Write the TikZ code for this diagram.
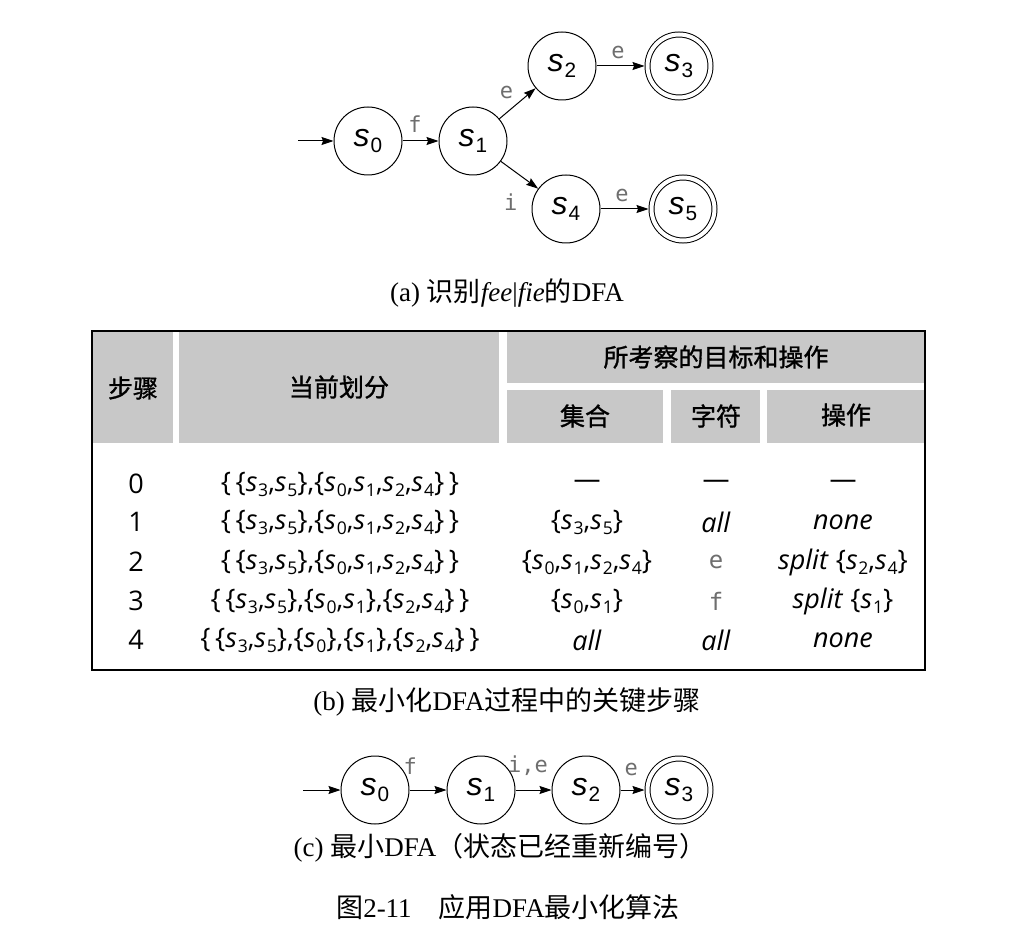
\documentclass[tikz,border=0pt]{standalone}
\usepackage{fontspec}
\setmainfont{Liberation Serif}
\newfontfamily\cjk{Noto Sans CJK SC}
\newfontfamily\cjkhead[FakeBold=1.2]{Noto Sans CJK SC}
\newfontfamily\tabfont{Open Sans}
\newfontfamily\statefont{Liberation Sans}
\newfontfamily\labfont{DejaVu Sans Mono}
\usetikzlibrary{arrows.meta}

\makeatletter
% lowered, smaller index that follows the size in force
\newcommand\subidx[1]{\raisebox{-0.35ex}{\fontsize{\the\dimexpr\f@size pt*13/20\relax}{0pt}\selectfont #1}}
\makeatother
\newcommand\sv[1]{\textit{s}\kern0.03em\subidx{#1}}
\newcommand\zh[1]{{\cjk #1}}
\newcommand\lb{\textbraceleft}
\newcommand\rb{\textbraceright}

\definecolor{headgray}{RGB}{200,200,200}
\definecolor{labgray}{RGB}{110,110,110}

\tikzset{
  state/.style={circle,draw,line width=1pt,minimum size=68pt,inner sep=0pt,
    font=\statefont\fontsize{32}{32}\selectfont},
  accept/.style={state,minimum size=63pt,double,double distance=4pt,outer sep=3pt},
  arr/.style={-{Stealth[length=12pt,width=8pt,inset=1.5pt]},line width=1pt},
  lab/.style={font=\labfont\fontsize{22}{22}\selectfont,text=labgray,inner sep=1pt},
  captext/.style={font=\fontsize{27}{27}\selectfont,inner sep=0pt},
  hcell/.style={fill=headgray,draw=none},
  htext/.style={font=\cjkhead\fontsize{25}{25}\selectfont,inner sep=0pt},
  body/.style={font=\tabfont\fontsize{27}{27}\selectfont,inner sep=0pt},
  chr/.style={font=\labfont\fontsize{24}{24}\selectfont,text=labgray,inner sep=0pt},
}

\begin{document}
\begin{tikzpicture}[x=1pt,y=-1pt]
\useasboundingbox (0,0) rectangle (1018,944);

% ---------- (a) DFA for fee|fie ----------
\node[state]  (a0) at (368,141) {\sv0};
\node[state]  (a1) at (473,141) {\sv1};
\node[state]  (a2) at (562,66)  {\sv2};
\node[accept] (a3) at (679,66)  {\sv3};
\node[state]  (a4) at (566,209) {\sv4};
\node[accept] (a5) at (683,209) {\sv5};
\coordinate (ain) at (298,141);

\draw[arr] (ain) -- (a0);
\draw[arr] (a0) -- node[lab,pos=0.35,above=7pt] {f} (a1);
\draw[arr] (a1) -- node[lab,above left=3pt] {e} (a2);
\draw[arr] (a1) -- node[lab,pos=0.75,below left=10pt] {i} (a4);
\draw[arr] (a2) -- node[lab,pos=0.45,above=6pt] {e} (a3);
\draw[arr] (a4) -- node[lab,pos=0.45,above=6pt] {e} (a5);

\node[captext] (capa) at (507,293) {(a) \zh{识别}\textit{fee}|\textit{fie}\zh{的}DFA};

% ---------- (b) table of minimisation steps ----------
\fill[hcell] (92,331) rectangle (173,443);
\fill[hcell] (179,331) rectangle (499,443);
\fill[hcell] (507,331) rectangle (925,383);
\fill[hcell] (507,390) rectangle (663,443);
\fill[hcell] (671,390) rectangle (760,443);
\fill[hcell] (767,390) rectangle (925,443);
\draw[line width=1.2pt] (92,331) rectangle (925,670);

\node[htext] (h1) at (133,388) {步骤};
\node[htext] (h2) at (339,387) {当前划分};
\node[htext] (h3) at (716,357) {所考察的目标和操作};
\node[htext] (h4) at (585,416) {集合};
\node[htext] (h5) at (716,416) {字符};
\node[htext] (h6) at (846,415) {操作};

% step numbers
\node[body] (n0) at (136,484) {0};
\node[body] (n1) at (136,522) {1};
\node[body] (n2) at (136,562) {2};
\node[body] (n3) at (136,601) {3};
\node[body] (n4) at (136,640) {4};

% current partition
\node[body] (p0) at (340,484) {\lb\,\lb\sv3,\sv5\rb,\lb\sv0,\sv1,\sv2,\sv4\rb\,\rb};
\node[body] (p1) at (340,522) {\lb\,\lb\sv3,\sv5\rb,\lb\sv0,\sv1,\sv2,\sv4\rb\,\rb};
\node[body] (p2) at (340,562) {\lb\,\lb\sv3,\sv5\rb,\lb\sv0,\sv1,\sv2,\sv4\rb\,\rb};
\node[body] (p3) at (340,601) {\lb\,\lb\sv3,\sv5\rb,\lb\sv0,\sv1\rb,\lb\sv2,\sv4\rb\,\rb};
\node[body] (p4) at (340,640) {\lb\,\lb\sv3,\sv5\rb,\lb\sv0\rb,\lb\sv1\rb,\lb\sv2,\sv4\rb\,\rb};

% set examined
\node[body] (s0) at (587,484) {—};
\node[body] (s1) at (587,522) {\lb\sv3,\sv5\rb};
\node[body] (s2) at (587,562) {\lb\sv0,\sv1,\sv2,\sv4\rb};
\node[body] (s3) at (587,601) {\lb\sv0,\sv1\rb};
\node[body] (s4) at (587,640) {\textit{all}};

% character
\node[body] (c0) at (716,484) {—};
\node[body] (c1) at (716,522) {\textit{all}};
\node[chr]  (c2) at (716,562) {e};
\node[chr]  (c3) at (716,601) {f};
\node[body] (c4) at (716,640) {\textit{all}};

% action
\node[body] (o0) at (843,484) {—};
\node[body] (o1) at (843,522) {\textit{none}};
\node[body] (o2) at (843,562) {\textit{split} \lb\sv2,\sv4\rb};
\node[body] (o3) at (843,601) {\textit{split} \lb\sv1\rb};
\node[body] (o4) at (843,640) {\textit{none}};

\node[captext] (capb) at (507,702) {(b) \zh{最小化}DFA\zh{过程中的关键步骤}};

% ---------- (c) minimal DFA ----------
\node[state]  (m0) at (375,790) {\sv0};
\node[state]  (m1) at (481,790) {\sv1};
\node[state]  (m2) at (586,790) {\sv2};
\node[accept] (m3) at (679,790) {\sv3};
\coordinate (min) at (303,790);

\draw[arr] (min) -- (m0);
\draw[arr] (m0) -- node[lab,pos=0.02,above=14pt] {f} (m1);
\draw[arr] (m1) -- node[lab,pos=0.35,above=13pt] {i,e} (m2);
\draw[arr] (m2) -- node[lab,pos=0.45,above=13pt] {e} (m3);

\node[captext] (capc) at (500,848) {(c) \zh{最小}DFA\zh{（状态已经重新编号）}};

\node[captext] (capfig) at (508,907) {\zh{图}2-11\quad\zh{应用}DFA\zh{最小化算法}};
\end{tikzpicture}
\end{document}
